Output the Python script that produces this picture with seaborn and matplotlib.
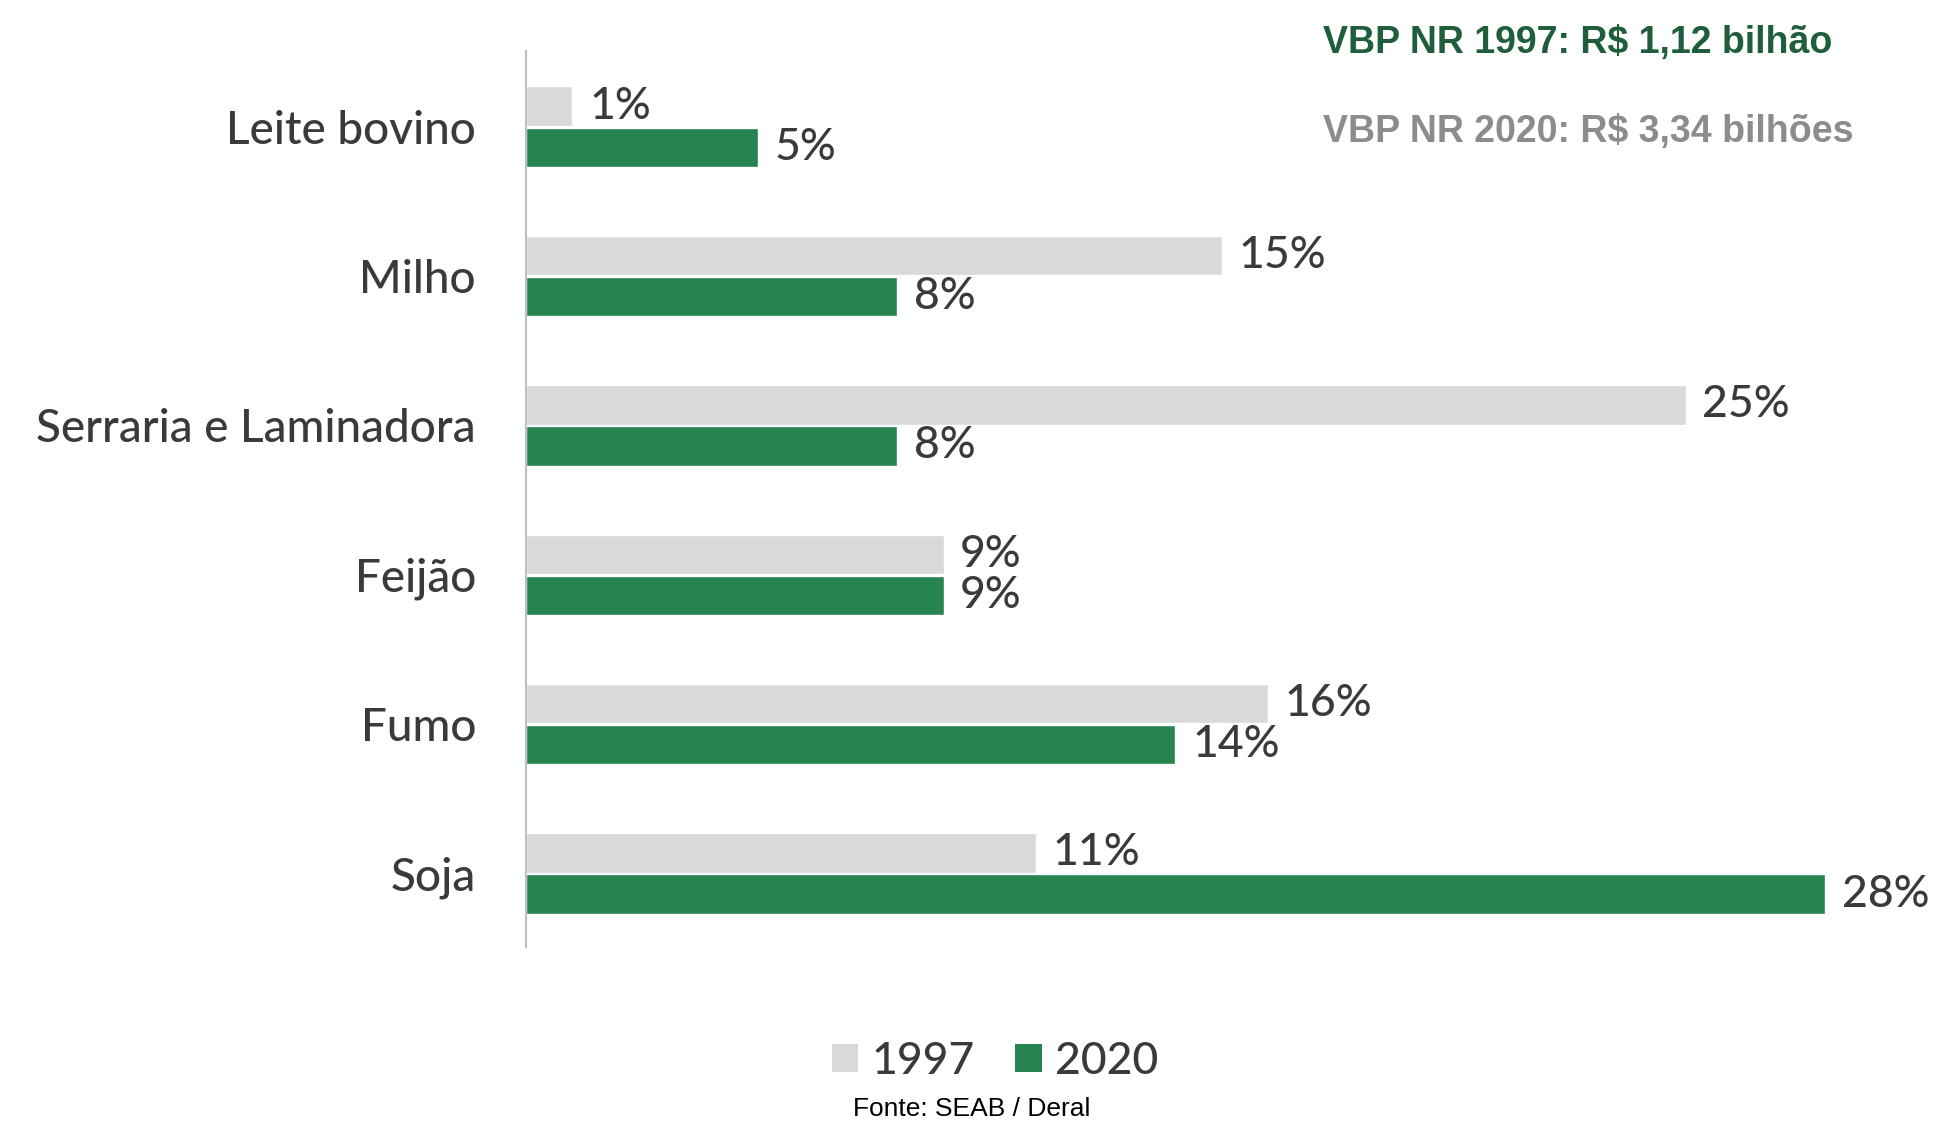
import matplotlib
matplotlib.use("Agg")
import matplotlib.pyplot as plt
import seaborn as sns
import pandas as pd
from matplotlib.patches import Patch

# Share of each product in the gross production value (%)
categorias = ["Leite bovino", "Milho", "Serraria e Laminadora", "Feijão", "Fumo", "Soja"]
anos = ["1997", "2020"]
valores_1997 = [1, 15, 25, 9, 16, 11]
valores_2020 = [5, 8, 8, 9, 14, 28]

df = pd.DataFrame({
    "categoria": categorias * 2,
    "ano": [anos[0]] * len(categorias) + [anos[1]] * len(categorias),
    "valor": valores_1997 + valores_2020,
})

sns.set_theme(style="white")
plt.rcParams["font.family"] = ["Lato", "DejaVu Sans"]

CINZA = "#D9D9D9"
VERDE = "#27834F"
TEXTO = "#3A3A3A"

fig = plt.figure(figsize=(19.41, 11.23), dpi=100)
ax = fig.add_axes([0.271, 0.157, 0.717, 0.798])

sns.barplot(data=df, y="categoria", x="valor", hue="ano", order=categorias,
            hue_order=anos, palette=[CINZA, VERDE], orient="h",
            width=0.55, gap=0.04, saturation=1, ax=ax, legend=False)

for cont in ax.containers:
    ax.bar_label(cont, fmt="%d%%", padding=12, fontsize=32, color=TEXTO,
                 fontweight="medium")

ax.set_xlim(0, 30)
ax.set_ylim(5.49, -0.51)
ax.set_xlabel("")
ax.set_ylabel("")
ax.set_xticks([])
ax.tick_params(axis="y", length=0, pad=36, labelsize=33, labelcolor=TEXTO)
for lbl in ax.get_yticklabels():
    lbl.set_fontweight("medium")
for s in ["top", "right", "bottom"]:
    ax.spines[s].set_visible(False)
ax.spines["left"].set_color("#BFBFBF")
ax.spines["left"].set_linewidth(1.5)

# Legend
handles = [Patch(facecolor=CINZA, edgecolor="none"), Patch(facecolor=VERDE, edgecolor="none")]
leg = fig.legend(handles, anos, loc="center", bbox_to_anchor=(995 / 1941, 1 - 1061 / 1123),
                 ncol=2, frameon=False, fontsize=32, handlelength=0.6, handleheight=0.6,
                 handletextpad=0.3, columnspacing=0.9, labelcolor=TEXTO)
for t in leg.get_texts():
    t.set_fontweight("medium")

fig.text(1323 / 1941, 1 - 43 / 1123, "VBP NR 1997: R$ 1,12 bilhão", color="#1E5E3A",
         fontsize=27, fontweight="bold", family="Liberation Sans", va="center", ha="left")
fig.text(1323 / 1941, 1 - 132 / 1123, "VBP NR 2020: R$ 3,34 bilhões", color="#8C8C8C",
         fontsize=27, fontweight="bold", family="Liberation Sans", va="center", ha="left")
fig.text(972 / 1941, 1 - 1121 / 1123, "Fonte: SEAB / Deral", color="black",
         fontsize=19, family="Liberation Sans", va="bottom", ha="center")

fig.savefig("out.png", dpi=100, facecolor="white")
